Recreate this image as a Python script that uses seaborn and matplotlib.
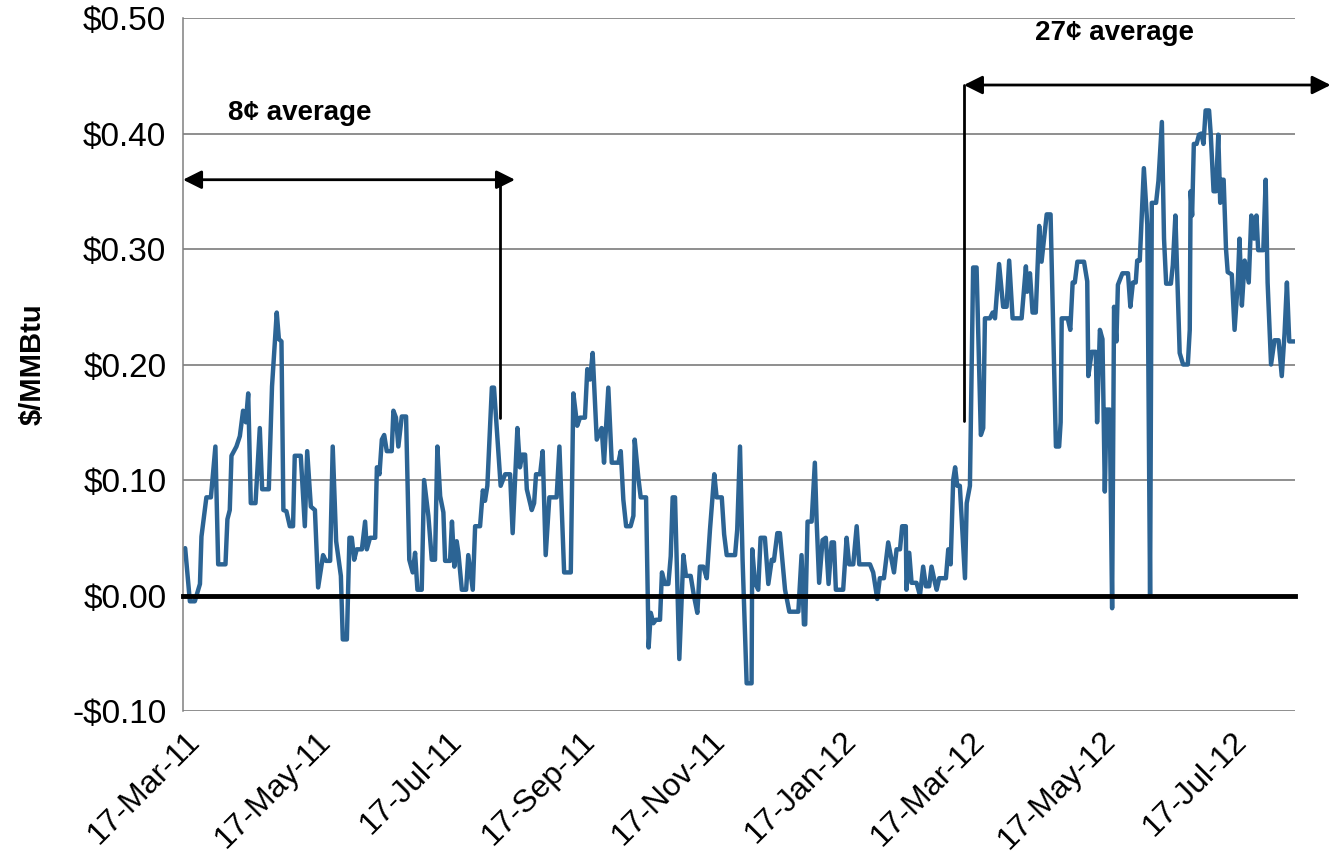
import pandas as pd
import matplotlib
matplotlib.use("Agg")
import matplotlib.pyplot as plt
import matplotlib.dates as mdates
from matplotlib.ticker import MultipleLocator, FuncFormatter
import seaborn as sns

# =========================
# DATA
# =========================
start_date = "2011-03-17"

# days since 17-Mar-11
days = [
    0.0, 2.2, 4.5, 6.9, 7.6, 9.9, 12.0, 14.1, 15.4, 18.8,
    19.7, 20.8, 21.6, 23.9, 25.5, 27.0, 28.3, 29.4, 30.6, 32.8,
    34.8, 35.9, 39.0, 40.5, 42.7, 43.7, 44.9, 45.8, 47.2, 48.8,
    50.3, 51.1, 53.9, 55.8, 56.9, 58.6, 60.5, 62.0, 64.3, 65.6,
    67.6, 68.8, 70.4, 72.6, 73.5, 75.4, 76.6, 77.7, 78.8, 80.0,
    82.4, 83.9, 84.7, 86.2, 88.6, 89.4, 90.6, 91.7, 92.8, 94.0,
    96.3, 97.1, 98.3, 99.4, 101.0, 103.0, 104.5, 106.1, 107.2, 108.3,
    110.3, 111.4, 113.4, 115.0, 116.5, 117.6, 118.9, 120.4, 121.2, 123.5,
    124.4, 125.5, 126.6, 127.4, 129.0, 131.0, 132.0, 134.1, 135.2, 137.5,
    138.8, 139.8, 140.9, 143.0, 144.0, 147.1, 149.2, 151.5, 152.7, 154.9,
    156.1, 157.2, 158.5, 159.3, 161.6, 162.7, 163.6, 165.5, 166.7, 168.1,
    169.8, 173.2, 174.5, 176.7, 179.8, 181.0, 182.8, 184.1, 186.4, 187.5,
    188.8, 190.0, 191.9, 194.2, 195.3, 197.3, 198.9, 202.0, 203.1, 204.3,
    205.6, 207.7, 209.0, 209.6, 211.3, 212.4, 214.9, 216.1, 217.1, 218.3,
    219.5, 221.4, 222.3, 223.7, 225.3, 226.4, 227.3, 228.4, 230.4, 232.3,
    233.5, 235.7, 237.2, 238.8, 240.0, 241.6, 243.2, 244.7, 246.7, 247.8,
    250.2, 251.3, 252.5, 256.4, 257.4, 258.7, 259.9, 261.8, 264.1, 264.4,
    265.7, 267.2, 268.3, 270.3, 271.9, 273.5, 274.5, 276.1, 277.3, 279.7,
    281.7, 285.9, 287.4, 288.5, 289.1, 290.2, 292.1, 293.6, 294.4, 295.6,
    297.2, 298.7, 300.0, 301.4, 302.5, 303.4, 306.8, 308.4, 309.6, 311.5,
    313.1, 314.3, 319.3, 320.8, 322.7, 323.9, 325.8, 327.8, 330.5, 331.7,
    333.3, 334.3, 336.0, 336.3, 337.6, 338.7, 341.0, 342.6, 344.1, 345.4,
    346.9, 348.0, 349.6, 350.4, 351.6, 354.7, 355.8, 356.9, 358.1, 359.0,
    360.0, 361.2, 363.6, 364.4, 365.9, 367.4, 369.0, 371.0, 372.1, 372.9,
    375.2, 376.5, 377.6, 379.5, 381.4, 383.0, 384.2, 385.8, 390.0, 392.0,
    392.6, 393.9, 395.1, 396.6, 398.2, 399.3, 401.7, 403.5, 406.0, 407.5,
    408.2, 408.7, 411.5, 412.7, 413.8, 414.8, 416.0, 419.1, 420.6, 421.1,
    422.7, 424.6, 425.2, 426.5, 427.7, 428.8, 429.6, 431.1, 432.2, 433.1,
    434.2, 434.9, 437.0, 439.6, 440.7, 441.9, 443.2, 443.9, 445.1, 447.0,
    448.6, 449.9, 450.7, 452.7, 453.8, 455.4, 456.4, 457.4, 459.6, 460.5,
    461.7, 462.8, 463.7, 465.3, 467.5, 468.4, 468.8, 469.5, 470.3, 471.6,
    472.7, 473.8, 474.8, 475.8, 477.4, 478.2, 479.5, 480.6, 481.7, 482.6,
    483.3, 484.2, 485.3, 486.1, 488.0, 489.3, 490.8, 491.6, 492.7, 494.0,
    495.9, 497.1, 498.4, 499.5, 500.3, 502.7, 503.8, 504.7, 506.3, 507.9,
    509.8, 511.3, 512.6, 513.7, 514.8, 517.3,
]

# $/MMBtu
spread = [
    0.041, -0.005, -0.005, 0.010, 0.051, 0.085, 0.085, 0.129, 0.027, 0.027,
    0.066, 0.074, 0.121, 0.129, 0.138, 0.160, 0.150, 0.175, 0.080, 0.080,
    0.145, 0.092, 0.092, 0.181, 0.245, 0.222, 0.220, 0.074, 0.073, 0.060,
    0.060, 0.121, 0.121, 0.060, 0.125, 0.077, 0.074, 0.007, 0.035, 0.030,
    0.030, 0.129, 0.047, 0.017, -0.038, -0.038, 0.050, 0.050, 0.031, 0.040,
    0.040, 0.064, 0.040, 0.050, 0.050, 0.111, 0.105, 0.135, 0.139, 0.125,
    0.125, 0.160, 0.154, 0.129, 0.155, 0.155, 0.031, 0.020, 0.037, 0.005,
    0.005, 0.100, 0.069, 0.031, 0.031, 0.129, 0.086, 0.072, 0.030, 0.030,
    0.064, 0.025, 0.047, 0.037, 0.005, 0.005, 0.035, 0.005, 0.060, 0.060,
    0.091, 0.082, 0.095, 0.180, 0.180, 0.095, 0.105, 0.105, 0.054, 0.145,
    0.111, 0.122, 0.122, 0.092, 0.074, 0.080, 0.105, 0.105, 0.125, 0.035,
    0.085, 0.085, 0.129, 0.020, 0.020, 0.175, 0.147, 0.154, 0.154, 0.196,
    0.187, 0.210, 0.135, 0.145, 0.115, 0.180, 0.115, 0.115, 0.125, 0.083,
    0.060, 0.060, 0.069, 0.135, 0.102, 0.085, 0.085, -0.045, -0.015, -0.024,
    -0.021, -0.021, 0.020, 0.010, 0.010, 0.034, 0.085, 0.085, -0.055, 0.035,
    0.017, 0.017, 0.000, -0.015, 0.025, 0.025, 0.015, 0.057, 0.105, 0.085,
    0.085, 0.053, 0.035, 0.035, 0.057, 0.129, 0.031, -0.076, -0.076, 0.040,
    0.011, 0.005, 0.050, 0.050, 0.010, 0.031, 0.030, 0.054, 0.054, 0.005,
    -0.014, -0.014, 0.035, -0.025, -0.025, 0.064, 0.064, 0.115, 0.066, 0.011,
    0.048, 0.050, 0.010, 0.046, 0.046, 0.005, 0.005, 0.050, 0.027, 0.027,
    0.060, 0.027, 0.027, 0.020, -0.003, 0.015, 0.015, 0.046, 0.020, 0.040,
    0.040, 0.060, 0.060, 0.005, 0.037, 0.011, 0.011, 0.000, 0.025, 0.008,
    0.008, 0.025, 0.011, 0.005, 0.015, 0.015, 0.040, 0.027, 0.100, 0.111,
    0.095, 0.095, 0.015, 0.080, 0.095, 0.284, 0.284, 0.139, 0.145, 0.240,
    0.240, 0.245, 0.240, 0.287, 0.250, 0.250, 0.290, 0.240, 0.240, 0.285,
    0.263, 0.279, 0.245, 0.245, 0.320, 0.289, 0.330, 0.330, 0.129, 0.129,
    0.150, 0.240, 0.240, 0.230, 0.271, 0.271, 0.289, 0.289, 0.272, 0.190,
    0.211, 0.211, 0.150, 0.230, 0.222, 0.090, 0.161, 0.161, -0.011, 0.250,
    0.220, 0.269, 0.279, 0.279, 0.250, 0.271, 0.271, 0.290, 0.290, 0.370,
    0.321, 0.000, 0.340, 0.340, 0.359, 0.410, 0.309, 0.270, 0.270, 0.286,
    0.329, 0.262, 0.210, 0.200, 0.200, 0.230, 0.350, 0.329, 0.391, 0.391,
    0.399, 0.400, 0.391, 0.420, 0.420, 0.399, 0.350, 0.350, 0.399, 0.340,
    0.360, 0.360, 0.300, 0.280, 0.278, 0.230, 0.271, 0.309, 0.251, 0.290,
    0.271, 0.329, 0.309, 0.329, 0.299, 0.299, 0.360, 0.271, 0.200, 0.221,
    0.221, 0.190, 0.227, 0.271, 0.220, 0.220,
]

# average annotations
avg_labels = ["8\u00a2 average", "27\u00a2 average"]
avg_text_day = [53.6, 433.5]
avg_text_y = [0.418, 0.487]
avg_arrow_from = [-1.0, 363.1]
avg_arrow_to = [153.8, 534.1]
avg_arrow_y = [0.360, 0.442]
avg_drop_day = [146.8, 363.1]
avg_drop_to = [0.154, 0.151]

# =========================
# PLOT
# =========================
sns.set_style("white")
plt.rcParams["font.family"] = ["Liberation Sans", "DejaVu Sans"]
plt.rcParams["text.color"] = "black"
plt.rcParams["axes.labelcolor"] = "black"

t0 = pd.Timestamp(start_date)
dates = t0 + pd.to_timedelta(days, unit="D")
df = pd.DataFrame({"date": dates, "spread": spread})

fig = plt.figure(figsize=(13.31, 8.58), dpi=100)
ax = fig.add_axes([0.1375, 0.1713, 0.8355, 0.8077])

sns.lineplot(data=df, x="date", y="spread", estimator=None, sort=False,
             color="#2C6494", linewidth=3.2, ax=ax)

ax.set_ylim(-0.10, 0.50)
ax.set_xlim(t0 - pd.Timedelta(days=1), t0 + pd.Timedelta(days=517.5))

ax.yaxis.set_major_locator(MultipleLocator(0.1))
ax.yaxis.set_major_formatter(FuncFormatter(
    lambda v, _: f"-\\${abs(v):.2f}" if v < -1e-9 else f"\\${abs(v):.2f}"))
ax.grid(axis="y", color="#707070", linewidth=1.1)
ax.grid(axis="x", visible=False)

xticks = [t0 + pd.DateOffset(months=2 * i) for i in range(9)]
ax.set_xticks(xticks)
ax.xaxis.set_major_formatter(mdates.DateFormatter("%d-%b-%y"))

for s in ["top", "right"]:
    ax.spines[s].set_visible(False)
ax.spines["left"].set_color("#808080")
ax.spines["left"].set_linewidth(1.1)
ax.spines["bottom"].set_position(("data", 0))
ax.spines["bottom"].set_color("black")
ax.spines["bottom"].set_linewidth(3.5)

ax.tick_params(axis="y", length=6, width=1, color="#808080", pad=6,
               labelsize=24, labelcolor="black")
ax.tick_params(axis="x", length=8, width=3, color="black", direction="out",
               pad=86, labelsize=23, labelcolor="black")
for lab in ax.get_xticklabels():
    lab.set_rotation(45)
    lab.set_ha("right")
    lab.set_va("top")
    lab.set_rotation_mode("anchor")

ax.set_xlabel("")
ax.set_ylabel("\\$/MMBtu", fontsize=21, fontweight="bold", labelpad=18,
              color="black")

# average arrows
for i in range(len(avg_labels)):
    x0 = mdates.date2num(t0 + pd.Timedelta(days=avg_arrow_from[i]))
    x1 = mdates.date2num(t0 + pd.Timedelta(days=avg_arrow_to[i]))
    xd = mdates.date2num(t0 + pd.Timedelta(days=avg_drop_day[i]))
    xt = mdates.date2num(t0 + pd.Timedelta(days=avg_text_day[i]))
    ax.annotate("", xy=(x1, avg_arrow_y[i]), xytext=(x0, avg_arrow_y[i]),
                arrowprops=dict(arrowstyle="<|-|>", color="black", lw=2,
                                mutation_scale=28, shrinkA=0, shrinkB=0),
                annotation_clip=False)
    ax.plot([xd, xd], [avg_arrow_y[i], avg_drop_to[i]], color="black",
            lw=2, clip_on=False)
    ax.text(xt, avg_text_y[i], avg_labels[i], fontsize=20, fontweight="bold",
            ha="center", va="center", color="black")

fig.savefig("out.png", dpi=100)
